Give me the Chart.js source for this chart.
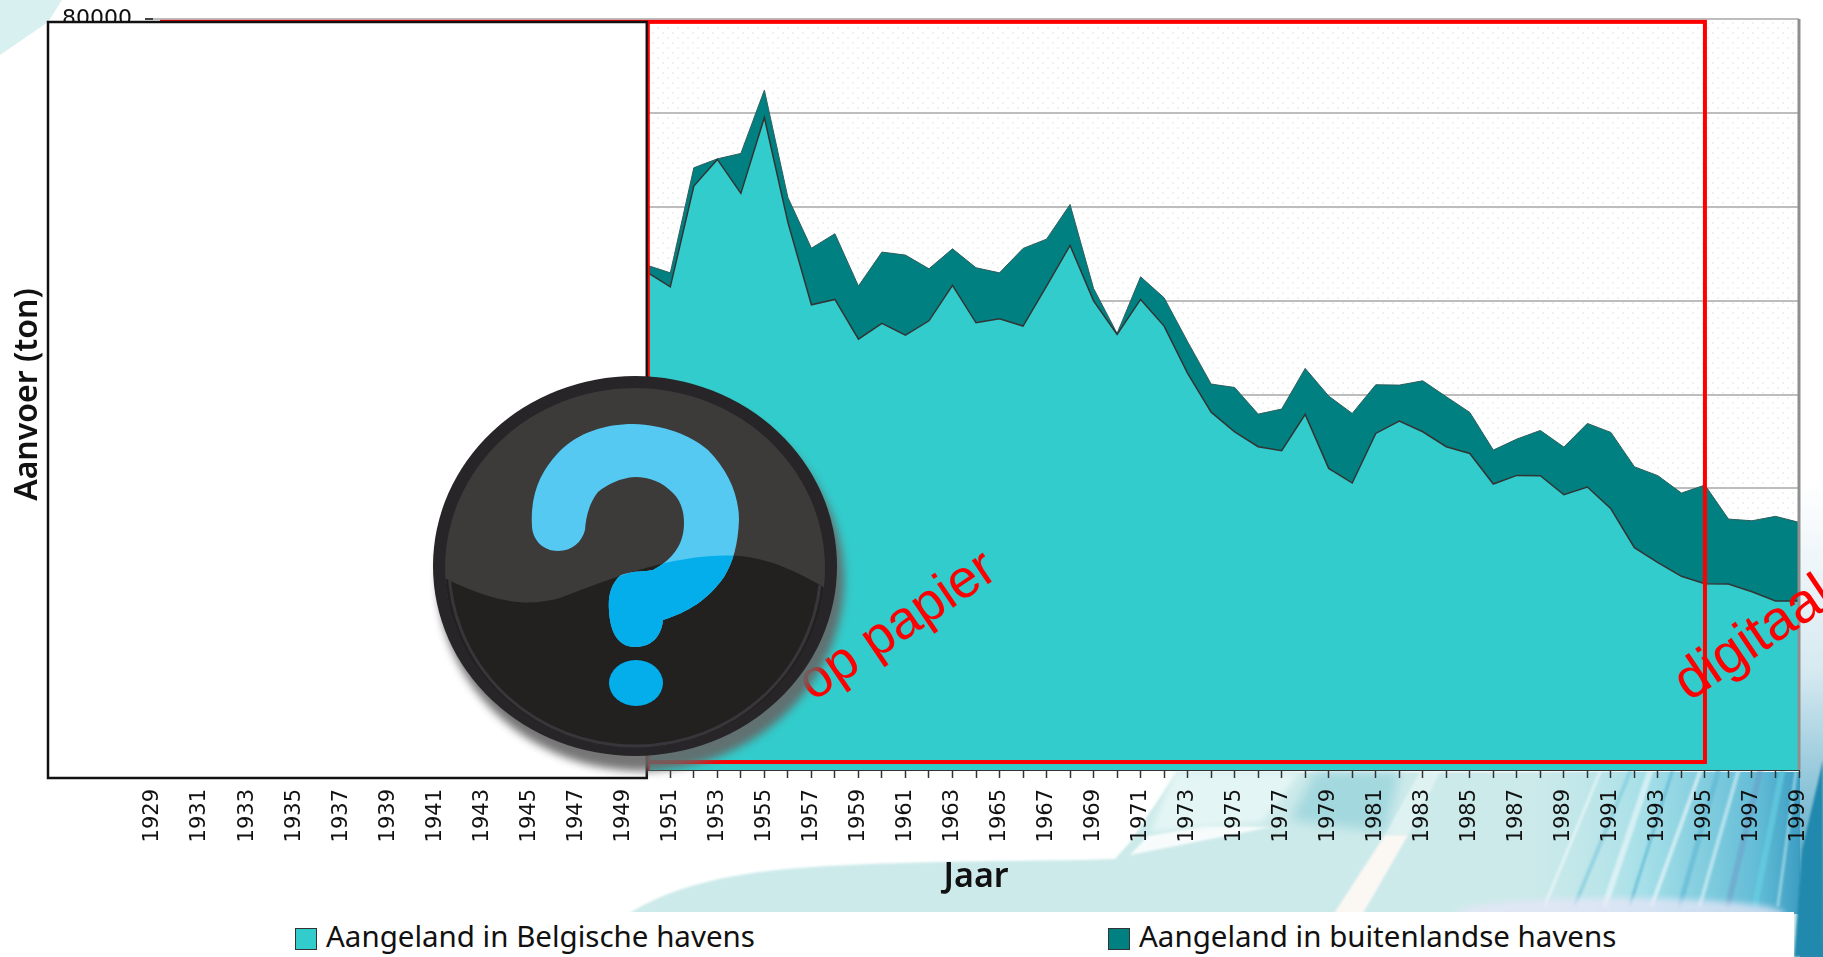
<!DOCTYPE html>
<html lang="nl">
<head>
<meta charset="utf-8">
<title>Aanvoer (ton)</title>
<script src="https://cdn.jsdelivr.net/npm/chart.js@4"></script>
<style>
    html, body { margin: 0; padding: 0; background: #fff; overflow: hidden; }
    #stage { position: relative; width: 1823px; height: 957px; overflow: hidden; }
    #stage > svg, #stage > canvas { position: absolute; left: 0; top: 0; }
    #legendStrip { position: absolute; left: 0; top: 912px; width: 1794px; height: 45px; background: #fff; }
    .legend-item { position: absolute; top: 0; font: 29.5px/48px "Noto Sans", sans-serif; color: #111; white-space: nowrap; }
    .legend-item i { position: absolute; left: -31px; top: 16px; width: 20px; height: 20px; border: 1px solid #333; }
</style>
</head>
<body>
<div id="stage">
    <!-- decorative page background -->
    <svg width="1823" height="957" id="pageBackground">
        <defs>
            <filter id="soft"><feGaussianBlur stdDeviation="3"></feGaussianBlur></filter>
            <filter id="softer"><feGaussianBlur stdDeviation="6"></feGaussianBlur></filter>
            <filter id="thin"><feGaussianBlur stdDeviation="1.2"></feGaussianBlur></filter>
            <linearGradient id="edge" x1="0" y1="0" x2="0" y2="1">
                <stop offset="0" stop-color="#ffffff"></stop>
                <stop offset="0.4" stop-color="#d6e9f1"></stop>
                <stop offset="0.7" stop-color="#7dbcd3"></stop>
                <stop offset="1" stop-color="#1f83ab"></stop>
            </linearGradient>
            <linearGradient id="sideBlue" x1="0" y1="0" x2="1" y2="0">
                <stop offset="0" stop-color="#cdeaea" stop-opacity="0"></stop>
                <stop offset="0.45" stop-color="#a5dfe8"></stop>
                <stop offset="0.8" stop-color="#62bcd6"></stop>
                <stop offset="0.92" stop-color="#3f9fc4"></stop>
                <stop offset="1" stop-color="#1f83ab"></stop>
            </linearGradient>
        </defs>
        <path d="M0 0 L62 0 L48 22 L0 55 Z" fill="#d8f0ef"></path>
        <path d="M600 935 C650 890 720 874 800 868 C900 860 1020 862 1115 859 L1130 842 L1177 772 L1830 772 L1830 960 L600 960 Z" fill="#cdeaea" filter="url(#thin)"></path>
        <path d="M1130 855 L1271 827 L1205 826 L1148 836 Z" fill="#ffffff" opacity="0.85" filter="url(#thin)"></path>
        <path d="M1175 772 L1300 772 L1262 822 L1150 832 Z" fill="#e4f5f5" filter="url(#soft)"></path>
        <path d="M1315 772 L1400 772 L1385 832 L1290 820 Z" fill="#a3d8df" filter="url(#softer)"></path>
        <path d="M1333 915 L1362 915 L1408 835 L1385 835 Z" fill="#fbf8f4" filter="url(#thin)"></path>
        <path d="M1385 835 L1408 835 L1440 772 L1420 772 Z" fill="#f2fbfb" opacity="0.5" filter="url(#thin)"></path>
        <rect x="1500" y="772" width="323" height="142" fill="url(#sideBlue)"></rect>
        <g filter="url(#thin)" stroke-linecap="round" fill="none">
            <path d="M1545 905 L1600 772" stroke="#ffffff" stroke-width="3" opacity="0.5"></path>
            <path d="M1575 905 L1630 772" stroke="#79c8dc" stroke-width="4" opacity="0.6"></path>
            <path d="M1605 905 L1650 772" stroke="#ffffff" stroke-width="6" opacity="0.5"></path>
            <path d="M1630 905 L1672 772" stroke="#4fb0d0" stroke-width="3" opacity="0.6"></path>
            <path d="M1652 905 L1700 772" stroke="#ffffff" stroke-width="4" opacity="0.55"></path>
            <path d="M1680 905 L1718 772" stroke="#5ab5d2" stroke-width="5" opacity="0.6"></path>
            <path d="M1700 905 L1738 772" stroke="#e8f8fb" stroke-width="4" opacity="0.55"></path>
            <path d="M1728 905 L1760 772" stroke="#6f8fc4" stroke-width="6" opacity="0.4"></path>
            <path d="M1755 905 L1782 772" stroke="#66d2e4" stroke-width="6" opacity="0.6"></path>
            <path d="M1778 905 L1796 772" stroke="#bcebf2" stroke-width="3" opacity="0.6"></path>
        </g>
        <ellipse cx="1620" cy="914" rx="165" ry="16" fill="#e7e6f8" opacity="0.75" filter="url(#soft)"></ellipse>
        <rect x="1800" y="480" width="30" height="480" fill="url(#edge)"></rect>
        <path d="M1794 957 L1823 957 L1823 760 L1802 850 Z" fill="#2389ae" filter="url(#thin)"></path>
    </svg>
    <div id="legendStrip"></div>
    <canvas id="chart" width="1823" height="957"></canvas>
    <!-- question mark badge placed over the hidden part of the chart -->
    <svg width="1823" height="957" style="pointer-events:none">
        <defs>
            <filter id="badgeShadow" x="-20%" y="-20%" width="140%" height="140%"><feGaussianBlur stdDeviation="4"></feGaussianBlur></filter>
            <clipPath id="lowerHalf">
                <path d="M425 569 C470 590 510 612 560 598 C620 575 680 552 740 556 C775 560 800 572 845 600 L845 780 L425 780 Z"></path>
            </clipPath>
        </defs>
        <ellipse cx="641" cy="580" rx="203" ry="191" fill="#666" opacity="0.9" filter="url(#badgeShadow)"></ellipse>
        <ellipse cx="635" cy="566" rx="202" ry="190" fill="#272527"></ellipse>
        <ellipse cx="635" cy="568" rx="190" ry="180" fill="#3d3a3a"></ellipse>
        <ellipse cx="635" cy="568" rx="190" ry="180" fill="#232120" clip-path="url(#lowerHalf)"></ellipse>
        <ellipse cx="635" cy="566" rx="186" ry="180" fill="none" stroke="#38363a" stroke-width="3" clip-path="url(#lowerHalf)"></ellipse>
        <g id="markLight" fill="#56c9f3">
            <path d="M532 527 C530 495 540 472 558 453 C578 432 606 424 633 424 C665 425 690 435 708 450 C728 470 739 495 739 520 C738 545 733 562 724 577 C708 600 688 612 663 620 C662 632 655 647 635 647 C618 647 610 632 609 610 C608 598 610 584 621 575 C635 570 645 572 653 570 C672 560 684 545 684 523 C684 510 680 500 673 493 C662 482 650 477 635 477 C620 478 608 484 598 492 C590 502 586 515 585 530 C582 542 572 551 558 551 C543 551 533 540 532 527 Z"></path>
        </g>
        <g clip-path="url(#lowerHalf)">
            <path fill="#04aeea" d="M532 527 C530 495 540 472 558 453 C578 432 606 424 633 424 C665 425 690 435 708 450 C728 470 739 495 739 520 C738 545 733 562 724 577 C708 600 688 612 663 620 C662 632 655 647 635 647 C618 647 610 632 609 610 C608 598 610 584 621 575 C635 570 645 572 653 570 C672 560 684 545 684 523 C684 510 680 500 673 493 C662 482 650 477 635 477 C620 478 608 484 598 492 C590 502 586 515 585 530 C582 542 572 551 558 551 C543 551 533 540 532 527 Z"></path>
        </g>
        <ellipse cx="636" cy="683" rx="27" ry="23" fill="#04aeea"></ellipse>
    </svg>
</div>

<script>
// Aanvoer per jaar
const years = [
    '1929', '1930', '1931', '1932', '1933', '1934', '1935', '1936', '1937', '1938',
    '1939', '1940', '1941', '1942', '1943', '1944', '1945', '1946', '1947', '1948', '1949',
    '1950', '1951', '1952', '1953', '1954', '1955', '1956', '1957', '1958', '1959',
    '1960', '1961', '1962', '1963', '1964', '1965', '1966', '1967', '1968', '1969',
    '1970', '1971', '1972', '1973', '1974', '1975', '1976', '1977', '1978', '1979',
    '1980', '1981', '1982', '1983', '1984', '1985', '1986', '1987', '1988', '1989',
    '1990', '1991', '1992', '1993', '1994', '1995', '1996', '1997', '1998', '1999'
];

// 1929-1949 is covered by the white box in the picture, so nothing can be read there
const hiddenYears = [null, null, null, null, null, null, null, null, null, null,
    null, null, null, null, null, null, null, null, null, null, null];

const belgianHarbours = hiddenYears.concat([
    53040, 51470, 62200, 65040, 61420, 69510, 58330, 49560, 50130, 45900,
    47570, 46330, 47850, 51620, 47640, 48070, 47290, 51550, 55880, 49980,
    46400, 50130, 47290, 42250, 38120, 36030, 34440, 34010, 37880, 32130,
    30570, 35850, 37170, 36030, 34440, 33720, 30460, 31380, 31350, 29320,
    30140, 27830, 23680, 22080, 20630, 19840, 19810, 18990, 18000, 18000
]);

const foreignHarbours = hiddenYears.concat([
    740, 1490, 1950, 60, 4260, 2910, 2660, 6030, 6990, 5650,
    7600, 8520, 5540, 3900, 5860, 4890, 8270, 5000, 4360, 1320,
    110, 2410, 3010, 3370, 2990, 4720, 3470, 4440, 4900, 7700,
    7410, 5190, 3830, 5430, 5320, 4370, 3620, 3870, 4820, 5080,
    6780, 8130, 8620, 9270, 8870, 10510, 6920, 7560, 9020, 8380
]);

const seriesNames = ['Aangeland in Belgische havens', 'Aangeland in buitenlandse havens'];
const seriesColors = ['#33cccc', '#008080'];
const legendLeft = [326, 1139];

// Legend
seriesNames.forEach((name, i) => {
    const item = document.createElement('div');
    item.className = 'legend-item';
    item.style.left = legendLeft[i] + 'px';
    item.innerHTML = '<i style="background:' + seriesColors[i] + '"></i>' + name;
    document.getElementById('legendStrip').appendChild(item);
});

// Scales: fixed box sizes so the plot lands where the reference has it
function fitScale(scale, width, height) {
    if (width) scale.width = width;
    if (height) scale.height = height;
    scale.paddingLeft = 0;
    scale.paddingRight = 0;
    scale.paddingTop = 0;
    scale.paddingBottom = 0;
}

// Plot background with the faint dots
const dotPlugin = {
    id: 'dots',
    beforeDraw(chart) {
        const tile = document.createElement('canvas');
        tile.width = 10;
        tile.height = 10;
        const t = tile.getContext('2d');
        t.fillStyle = '#fff';
        t.fillRect(0, 0, 10, 10);
        t.fillStyle = '#f1f1f1';
        t.fillRect(2, 2, 2, 2);
        t.fillRect(7, 7, 2, 2);
        const a = chart.chartArea;
        chart.ctx.save();
        chart.ctx.fillStyle = chart.ctx.createPattern(tile, 'repeat');
        chart.ctx.fillRect(a.left, a.top, a.right - a.left, a.bottom - a.top);
        chart.ctx.restore();
    }
};

// Red frame, white box and the two red notes
const overlayPlugin = {
    id: 'overlay',
    afterDraw(chart) {
        const ctx = chart.ctx;
        const a = chart.chartArea;
        const xs = chart.scales.x;
        const ys = chart.scales.y;
        const x1950 = xs.getPixelForValue(years.indexOf('1950'));
        const x1995 = xs.getPixelForValue(years.indexOf('1995'));
        const yTop = ys.getPixelForValue(79800);
        const yBottom = ys.getPixelForValue(850);

        ctx.save();
        // right edge of the plot
        ctx.strokeStyle = '#8f8f8f';
        ctx.lineWidth = 3;
        ctx.beginPath();
        ctx.moveTo(a.right, a.top);
        ctx.lineTo(a.right, a.bottom);
        ctx.stroke();

        ctx.strokeStyle = '#ff0000';
        ctx.lineWidth = 4;
        ctx.strokeRect(162, yTop + 1, x1995 - 162, yBottom - yTop - 1);

        ctx.fillStyle = '#fff';
        ctx.fillRect(48, 22, x1950 - 48, 756);
        ctx.strokeStyle = '#111';
        ctx.lineWidth = 2.5;
        ctx.strokeRect(48, 22, x1950 - 48, 756);

        ctx.strokeStyle = '#ff0000';
        ctx.lineWidth = 2;
        ctx.beginPath();
        ctx.moveTo(x1950 + 2, 22);
        ctx.lineTo(x1950 + 2, 770);
        ctx.stroke();

        ctx.fillStyle = '#ff0000';
        ctx.font = '54px "Liberation Sans", Arial, sans-serif';
        ctx.translate(813, 702);
        ctx.rotate(-34 * Math.PI / 180);
        ctx.fillText('op papier', 0, 0);
        ctx.restore();

        ctx.save();
        ctx.fillStyle = '#ff0000';
        ctx.font = '56px "Liberation Sans", Arial, sans-serif';
        ctx.translate(1689, 702);
        ctx.rotate(-34 * Math.PI / 180);
        ctx.fillText('digitaal', 0, 0);
        ctx.restore();
    }
};

new Chart(document.getElementById('chart'), {
    type: 'line',
    data: {
        labels: years,
        datasets: [{
            label: seriesNames[0],
            data: belgianHarbours,
            backgroundColor: seriesColors[0],
            borderColor: '#333',
            borderWidth: 1.5,
            fill: 'origin',
            pointRadius: 0,
            tension: 0
        }, {
            label: seriesNames[1],
            data: foreignHarbours,
            backgroundColor: seriesColors[1],
            borderColor: '#2f5f5f',
            borderWidth: 1,
            fill: '-1',
            pointRadius: 0,
            tension: 0
        }]
    },
    options: {
        responsive: false,
        animation: false,
        layout: { autoPadding: false, padding: { top: 19, right: 24, bottom: 59, left: 0 } },
        plugins: {
            legend: { display: false },
            tooltip: { enabled: false }
        },
        scales: {
            x: {
                afterFit(scale) { fitScale(scale, 0, 128); },
                grid: { drawOnChartArea: false, tickLength: 8, tickColor: '#333', tickWidth: 1.5 },
                border: { color: '#333', width: 2 },
                ticks: {
                    autoSkip: false,
                    minRotation: 90,
                    maxRotation: 90,
                    padding: 11,
                    color: '#111',
                    font: { family: '"DejaVu Sans"', size: 21 },
                    // every other year gets a label
                    callback(value) {
                        const label = this.getLabelForValue(value);
                        return Number(label) % 2 === 1 ? label : '';
                    }
                },
                title: {
                    display: true,
                    text: 'Jaar',
                    color: '#111',
                    font: { family: '"Noto Sans"', size: 34, weight: '600' },
                    padding: { top: 0, bottom: 0 }
                }
            },
            y: {
                stacked: true,
                min: 0,
                max: 80000,
                afterFit(scale) { fitScale(scale, 153, 0); },
                grid: { color: '#bdbdbd', lineWidth: 2, tickLength: 8, tickColor: '#444' },
                border: { display: false },
                ticks: {
                    stepSize: 10000,
                    padding: 13,
                    color: '#111',
                    font: { family: '"DejaVu Sans"', size: 22 },
                    callback(value) { return String(value); }
                },
                title: {
                    display: true,
                    text: 'Aanvoer (ton)',
                    color: '#111',
                    font: { family: '"Noto Sans"', size: 32, weight: '600' },
                    padding: { top: 9, bottom: 0 }
                }
            }
        }
    },
    plugins: [dotPlugin, overlayPlugin]
});
</script>
</body>
</html>
